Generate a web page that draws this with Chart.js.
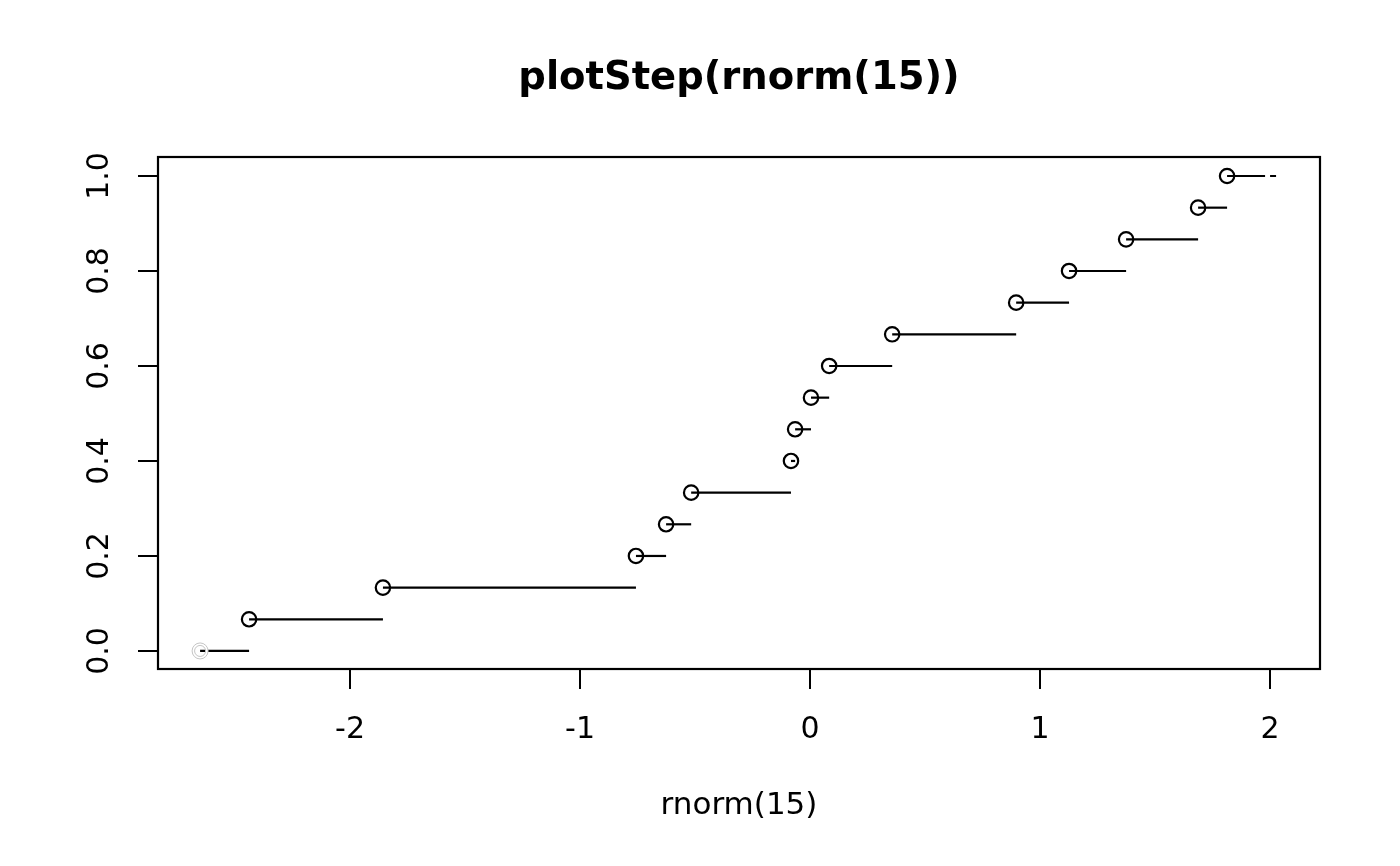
<!DOCTYPE html>
<html>
<head>
<meta charset="utf-8">
<script src="https://cdn.jsdelivr.net/npm/chart.js@4"></script>
<style>
  html, body { margin: 0; padding: 0; background: #fff; }
  #wrap { width: 1400px; height: 866px; }
</style>
</head>
<body>
<div id="wrap"><canvas id="c"></canvas></div>
<script>
// ---- data ----
const startX = -2.652;                      // grey start point (level 0)
const jumpX = [-2.439, -1.857, -0.757, -0.626, -0.517, -0.083, -0.065,
               0.004, 0.083, 0.357, 0.896, 1.126, 1.374, 1.687, 1.813];
const endX = 2.026;                         // right end of the last step
const nObs = 15;
const xTicks = [-2, -1, 0, 1, 2];
const yTicks = [0, 0.2, 0.4, 0.6, 0.8, 1.0];
const titleText = 'plotStep(rnorm(15))';
const xLabel = 'rnorm(15)';

// ---- build datasets ----
const datasets = [];
const lefts = [startX].concat(jumpX);
const rights = jumpX.concat([endX]);
for (let i = 0; i < lefts.length; i++) {
  const y = i / nObs;
  const isLast = i === lefts.length - 1;
  datasets.push({
    data: [{x: lefts[i], y: y}, {x: rights[i], y: y}],
    showLine: true,
    borderColor: '#000',
    borderWidth: 2.2,
    borderCapStyle: 'butt',
    borderDash: isLast ? [38, 5, 6, 60] : [],
    pointRadius: i === 0 ? [0, 0] : [7.2, 0],
    pointBorderWidth: 2.2,
    pointBorderColor: '#000',
    pointBackgroundColor: 'rgba(0,0,0,0)',
    pointStyle: 'circle',
    order: 1
  });
}
// grey double circle at the start point
datasets.push({
  data: [{x: startX, y: 0}],
  showLine: false,
  pointRadius: 6.8, pointBorderWidth: 2.5,
  pointBorderColor: '#fff', pointBackgroundColor: 'rgba(0,0,0,0)', order: 0
});
datasets.push({
  data: [{x: startX, y: 0}],
  showLine: false,
  pointRadius: 8, pointBorderWidth: 1,
  pointBorderColor: '#c4c4c4', pointBackgroundColor: 'rgba(0,0,0,0)', order: -1
});
datasets.push({
  data: [{x: startX, y: 0}],
  showLine: false,
  pointRadius: 5.5, pointBorderWidth: 1,
  pointBorderColor: '#c4c4c4', pointBackgroundColor: 'rgba(0,0,0,0)', order: -1
});

const boxPlugin = {
  id: 'box',
  afterDraw(chart) {
    const a = chart.chartArea, ctx = chart.ctx;
    ctx.save();
    ctx.strokeStyle = '#000';
    ctx.lineWidth = 2.2;
    ctx.strokeRect(a.left, a.top, a.right - a.left, a.bottom - a.top);
    ctx.restore();
  }
};

const FONT = 'DejaVu Sans';
Chart.defaults.font.family = FONT;
Chart.defaults.color = '#000';

new Chart(document.getElementById('c'), {
  type: 'scatter',
  data: { datasets },
  plugins: [boxPlugin],
  options: {
    responsive: true,
    maintainAspectRatio: false,
    animation: false,
    events: [],
    layout: { padding: { left: 0, right: 80, top: 0, bottom: 0 } },
    plugins: { legend: { display: false }, tooltip: { enabled: false }, title: { display: false } },
    scales: {
      x: {
        type: 'linear', position: 'bottom',
        min: -2.835, max: 2.217,
        afterBuildTicks: s => { s.ticks = xTicks.map(v => ({value: v})); },
        afterFit: s => { s.height = 197; },
        ticks: { font: { size: 30 }, padding: 23, maxRotation: 0, autoSkip: false,
                 callback: v => String(v) },
        grid: { display: true, drawOnChartArea: false, drawTicks: true, tickLength: 20,
                tickColor: '#000', tickWidth: 2, color: '#000', lineWidth: 2 },
        border: { display: false },
        title: { display: true, text: xLabel, font: { size: 31 }, padding: { top: 0, bottom: 41 } }
      },
      xTop: {
        type: 'linear', position: 'top',
        min: -2.835, max: 2.217,
        afterBuildTicks: s => { s.ticks = []; },
        afterFit: s => { s.height = 157; },
        ticks: { display: false },
        grid: { display: false },
        border: { display: false },
        title: { display: true, text: titleText, font: { size: 38.5, weight: 'bold' },
                 padding: { top: 56, bottom: 0 } }
      },
      y: {
        type: 'linear', position: 'left',
        min: -0.038, max: 1.04,
        afterBuildTicks: s => { s.ticks = yTicks.map(v => ({value: v})); },
        afterFit: s => { s.width = 158; },
        ticks: { font: { size: 30 }, padding: 14, minRotation: 90, maxRotation: 90,
                 crossAlign: 'center', autoSkip: false,
                 callback: v => Number(v).toFixed(1) },
        grid: { display: true, drawOnChartArea: false, drawTicks: true, tickLength: 20,
                tickColor: '#000', tickWidth: 2, color: '#000', lineWidth: 2 },
        border: { display: false }
      }
    }
  }
});
</script>
</body>
</html>
